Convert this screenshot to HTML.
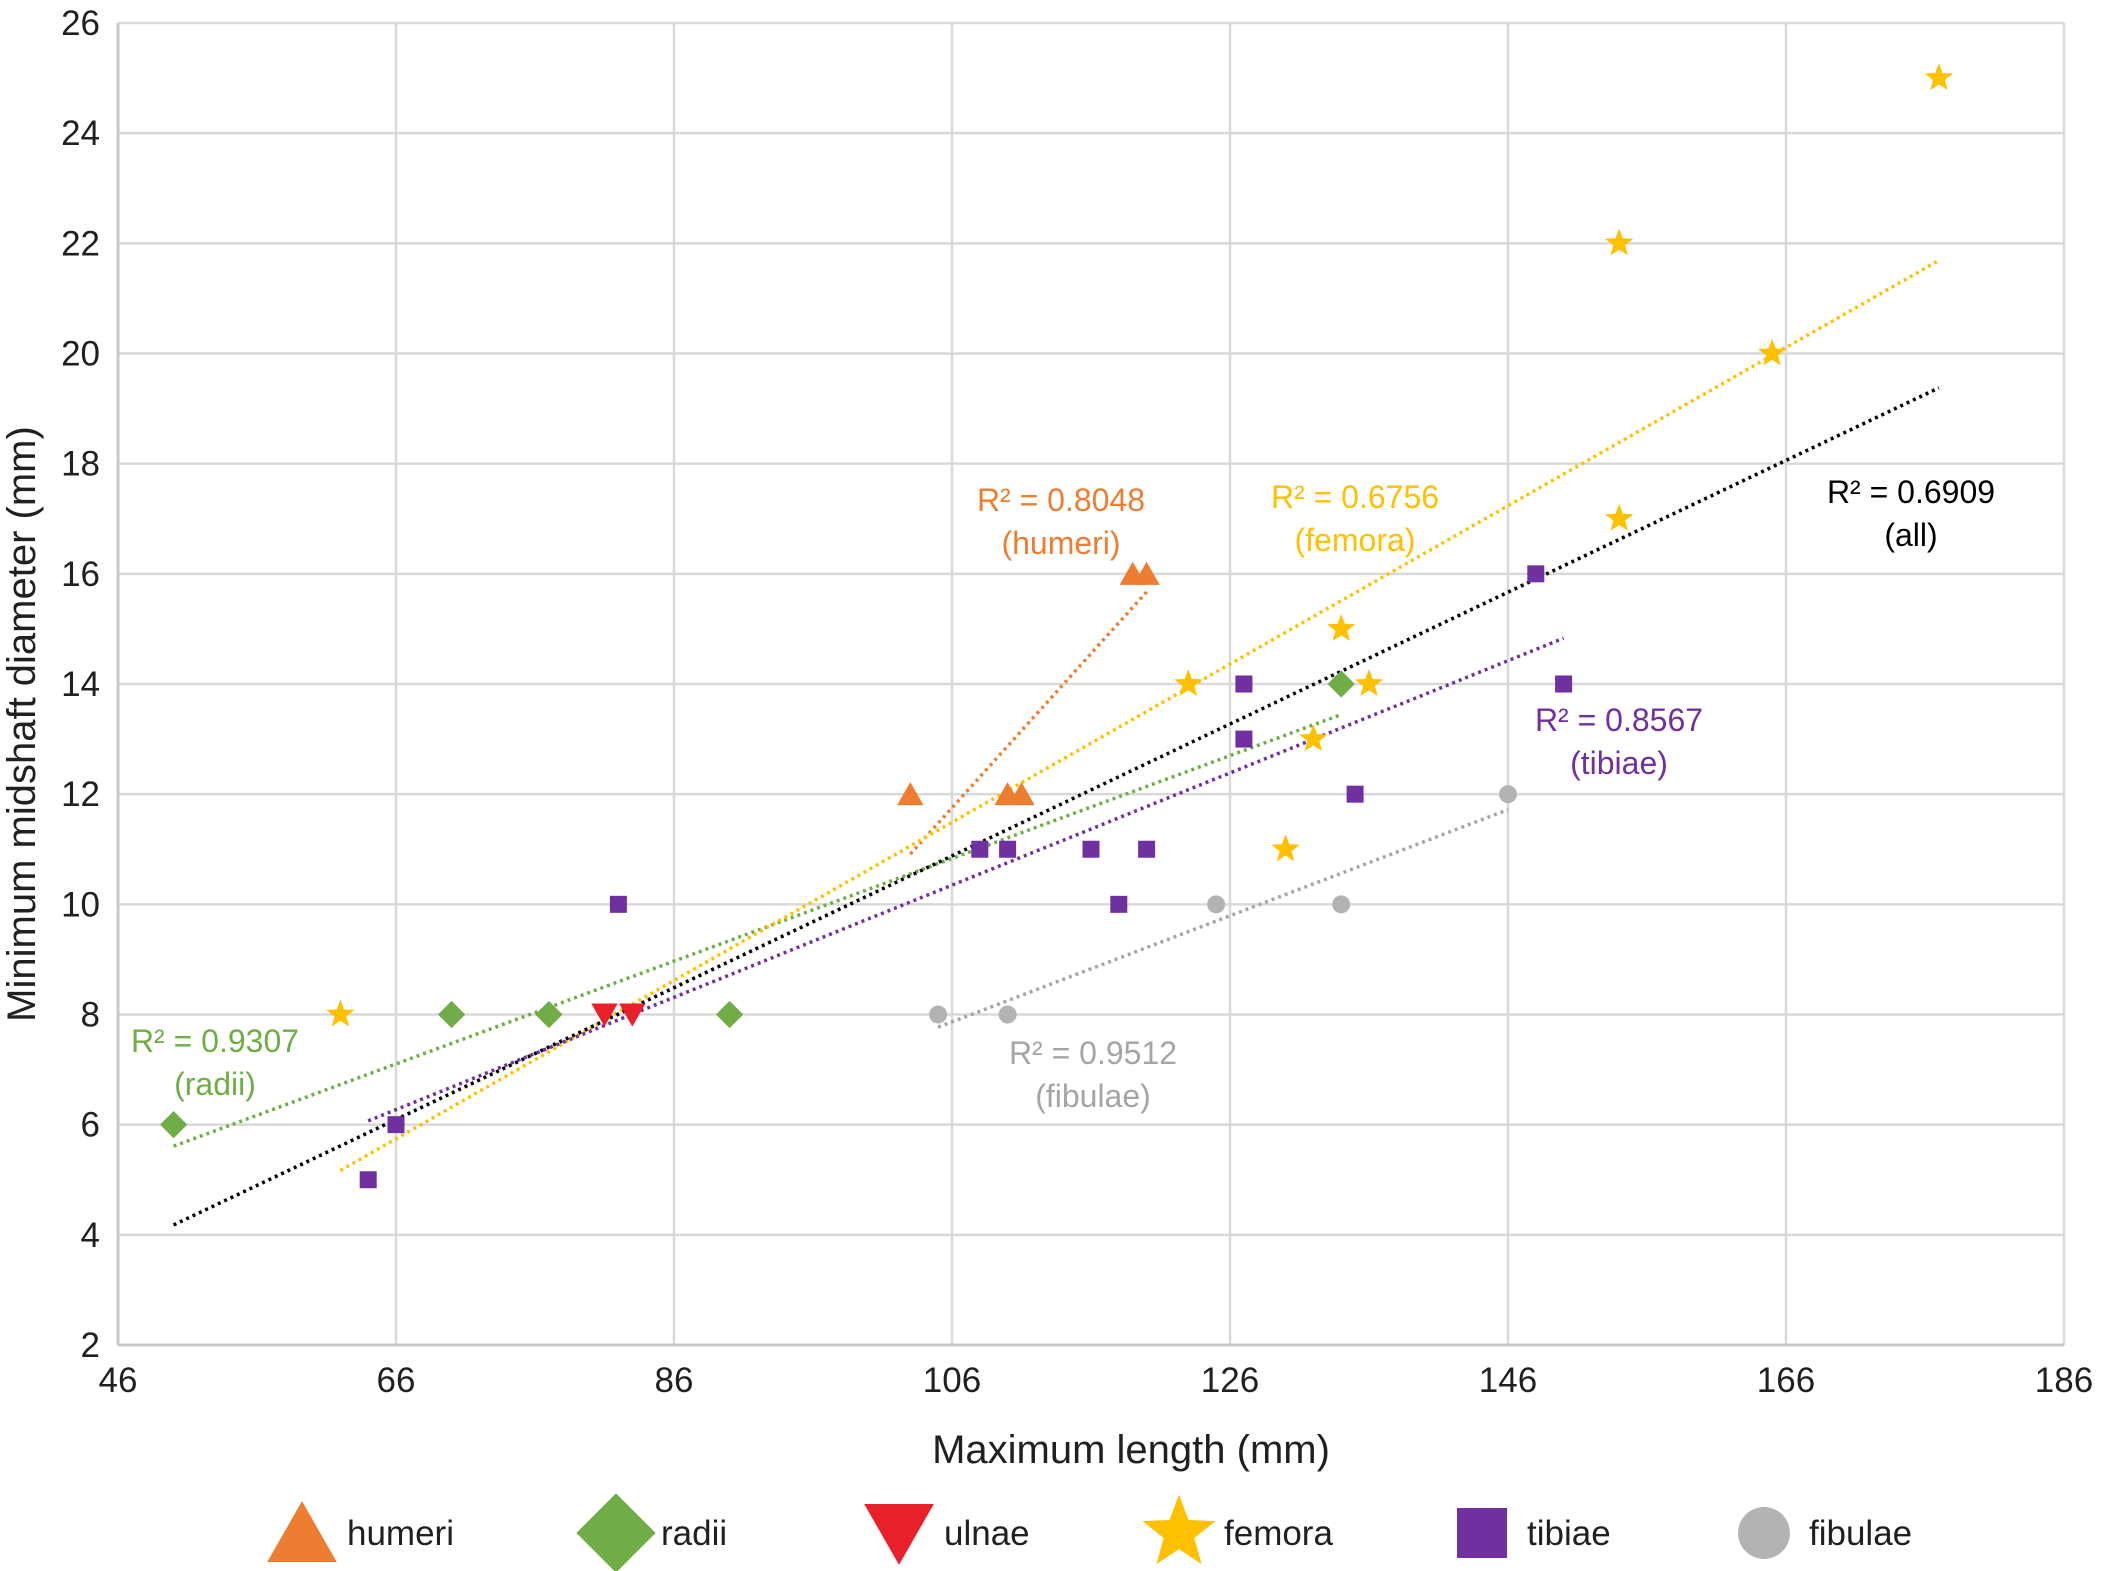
<!DOCTYPE html>
<html><head><meta charset="utf-8"><style>
html,body{margin:0;padding:0;background:#fff;}
svg{display:block;font-family:"Liberation Sans",sans-serif;}
</style></head><body>
<svg id="chart" width="2103" height="1571" viewBox="0 0 2103 1571"></svg>
<script>
const xTicks=[46,66,86,106,126,146,166,186];
const yTicks=[2,4,6,8,10,12,14,16,18,20,22,24,26];
const humeriX=[103,110,111,119,120];
const humeriY=[12,12,12,16,16];
const radiiX=[50,70,77,90,134];
const radiiY=[6,8,8,8,14];
const ulnaeX=[81,83];
const ulnaeY=[8,8];
const femoraX=[62,123,134,136,132,130,154,154,165,177];
const femoraY=[8,14,15,14,13,11,22,17,20,25];
const tibiaeX=[64,66,82,108,110,116,120,118,127,127,135,148,150];
const tibiaeY=[5,6,10,11,11,11,11,10,14,13,12,16,14];
const fibulaeX=[105,110,125,134,146];
const fibulaeY=[8,8,10,10,12];
const r2Labels=["R² = 0.8048","R² = 0.6756","R² = 0.6909","R² = 0.8567","R² = 0.9307","R² = 0.9512"];

const NS="http://www.w3.org/2000/svg";
const svg=document.getElementById('chart');
const L=118,R=2064,T=23,B=1345;
const X=v=>L+(v-46)*(R-L)/140;
const Y=v=>B-(v-2)*(B-T)/24;
function mk(tag,attrs,parent){const e=document.createElementNS(NS,tag);for(const k in attrs)e.setAttribute(k,attrs[k]);(parent||svg).appendChild(e);return e;}

const grid=mk('g',{});


xTicks.forEach(t=>{mk('line',{x1:X(t),x2:X(t),y1:T,y2:B,stroke:'#d9d9d9','stroke-width':2.5},grid);
 const tx=mk('text',{x:X(t),y:1392,'font-size':35,'text-anchor':'middle',fill:'#231f20'});tx.textContent=t;
 
 });
yTicks.forEach(t=>{mk('line',{x1:L,x2:R,y1:Y(t),y2:Y(t),stroke:'#d9d9d9','stroke-width':2.5},grid);
 const tx=mk('text',{x:100,y:Y(t)+12,'font-size':35,'text-anchor':'end',fill:'#231f20'});tx.textContent=t;
 
 });
mk('line',{x1:L,x2:L,y1:T,y2:B,stroke:'#c8c8c8','stroke-width':3},grid);
mk('line',{x1:L,x2:R,y1:B,y2:B,stroke:'#c8c8c8','stroke-width':3},grid);

function reg(xs,ys){const n=xs.length;let mx=0,my=0;for(let i=0;i<n;i++){mx+=xs[i];my+=ys[i];}mx/=n;my/=n;let sxy=0,sxx=0;for(let i=0;i<n;i++){sxy+=(xs[i]-mx)*(ys[i]-my);sxx+=(xs[i]-mx)**2;}const b=sxy/sxx;return [b,my-b*mx];}
function trend(xs,ys,color,name){const [b,a]=reg(xs,ys);const x0=Math.min(...xs),x1=Math.max(...xs);
 const l=mk('line',{x1:X(x0),y1:Y(a+b*x0),x2:X(x1),y2:Y(a+b*x1),stroke:color,'stroke-width':3.5,'stroke-dasharray':'3 4'});
 
 }
const allX=[].concat(humeriX,radiiX,ulnaeX,femoraX,tibiaeX,fibulaeX);
const allY=[].concat(humeriY,radiiY,ulnaeY,femoraY,tibiaeY,fibulaeY);
trend(radiiX,radiiY,'#70ad47','trendline-radii');
trend(fibulaeX,fibulaeY,'#a5a5a5','trendline-fibulae');
trend(humeriX,humeriY,'#ed7d31','trendline-humeri');
trend(femoraX,femoraY,'#ffc000','trendline-femora');
trend(tibiaeX,tibiaeY,'#7030a0','trendline-tibiae');
trend(allX,allY,'#000000','trendline-all');

function shape(type,cx,cy,s,color,parent){
 if(type==='tri')return mk('polygon',{points:`${cx},${cy-s*0.55} ${cx-s*0.6},${cy+s*0.5} ${cx+s*0.6},${cy+s*0.5}`,fill:color},parent);
 if(type==='dia')return mk('polygon',{points:`${cx},${cy-s*0.62} ${cx+s*0.62},${cy} ${cx},${cy+s*0.62} ${cx-s*0.62},${cy}`,fill:color},parent);
 if(type==='inv')return mk('polygon',{points:`${cx-s*0.6},${cy-s*0.5} ${cx+s*0.6},${cy-s*0.5} ${cx},${cy+s*0.55}`,fill:color},parent);
 if(type==='sq')return mk('rect',{x:cx-s/2,y:cy-s/2,width:s,height:s,fill:color},parent);
 if(type==='cir')return mk('circle',{cx:cx,cy:cy,r:s/2,fill:color},parent);
 if(type==='star'){let p=[];for(let i=0;i<10;i++){const r=i%2?s*0.26:s*0.62;const a=-Math.PI/2+i*Math.PI/5;p.push((cx+r*Math.cos(a)).toFixed(1)+','+(cy+r*Math.sin(a)).toFixed(1));}return mk('polygon',{points:p.join(' '),fill:color},parent);}
}
function series(xs,ys,type,s,color,name){xs.forEach((x,i)=>{const e=shape(type,X(x),Y(ys[i]),s,color);
 
 });}
series(humeriX,humeriY,'tri',22,'#ed7d31','humeri-point');
series(radiiX,radiiY,'dia',22,'#70ad47','radii-point');
series(ulnaeX,ulnaeY,'inv',22,'#e8202a','ulnae-point');
series(femoraX,femoraY,'star',24,'#ffc000','femora-point');
series(tibiaeX,tibiaeY,'sq',17,'#7030a0','tibiae-point');
series(fibulaeX,fibulaeY,'cir',18,'#b3b3b3','fibulae-point');

const labs=[[1061,500,r2Labels[0],'(humeri)','#ed7d31','r2-humeri'],[1355,497,r2Labels[1],'(femora)','#ffc000','r2-femora'],[1911,492,r2Labels[2],'(all)','#000','r2-all'],[1619,720,r2Labels[3],'(tibiae)','#7030a0','r2-tibiae'],[215,1041,r2Labels[4],'(radii)','#70ad47','r2-radii'],[1093,1053,r2Labels[5],'(fibulae)','#a5a5a5','r2-fibulae']];
labs.forEach(l=>{const t=mk('text',{x:l[0],y:l[1]+11,'font-size':32,'text-anchor':'middle',fill:l[4]});t.textContent=l[2];
 
 
 const t2=mk('text',{x:l[0],y:l[1]+54,'font-size':32,'text-anchor':'middle',fill:l[4]});t2.textContent=l[3];
 
 });

const xt=mk('text',{x:1131,y:1463,'font-size':40,'text-anchor':'middle',fill:'#231f20'});xt.textContent='Maximum length (mm)';


const yt=mk('text',{x:0,y:0,'font-size':40,'text-anchor':'middle',fill:'#231f20',transform:'translate(35,724) rotate(-90)'});yt.textContent='Minimum midshaft diameter (mm)';



const leg=[['tri',302,'humeri','#ed7d31'],['dia',616,'radii','#70ad47'],['inv',899,'ulnae','#e8202a'],['star',1179,'femora','#ffc000'],['sq',1482,'tibiae','#7030a0'],['cir',1764,'fibulae','#b3b3b3']];
leg.forEach(g=>{const grp=mk('g',{});
 
 
 const s=g[0]==='sq'?50:g[0]==='cir'?52:g[0]==='star'?62:g[0]==='dia'?64:58;
 shape(g[0],g[1],1533,s,g[3],grp);
 const t=mk('text',{x:g[1]+45,y:1545,'font-size':35,fill:'#231f20'},grp);t.textContent=g[2];});
</script>
</body></html>
